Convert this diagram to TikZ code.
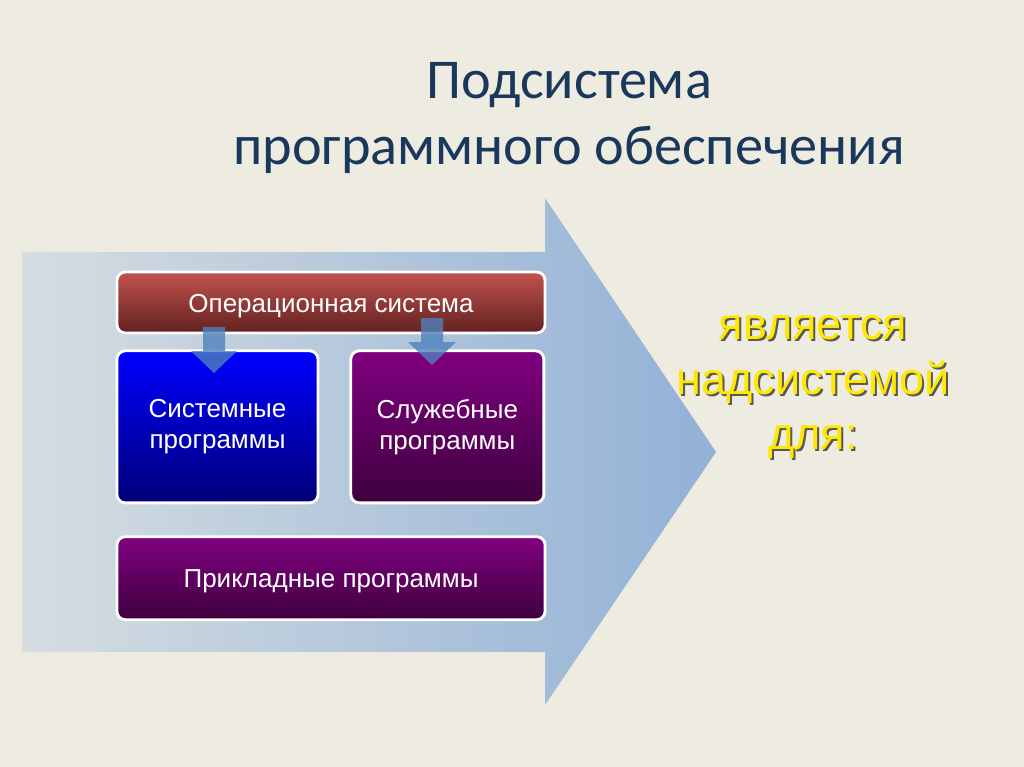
\documentclass[tikz,border=0pt]{standalone}
\usepackage{fontspec}
\setmainfont{Liberation Sans}
\newfontfamily\titlefont{Carlito}
\usepackage{tikz}
\usetikzlibrary{positioning,shadings}
\definecolor{slide}{HTML}{EEECE1}
\definecolor{titleblue}{RGB}{26,56,92}
\definecolor{arrowleft}{RGB}{214,221,225}
\definecolor{arrowright}{RGB}{146,177,214}
\definecolor{ostop}{RGB}{194,82,78}
\definecolor{osbottom}{RGB}{98,34,33}
\definecolor{systop}{RGB}{0,0,255}
\definecolor{sysbottom}{RGB}{0,0,120}
\definecolor{purpletop}{RGB}{128,0,128}
\definecolor{purplebottom}{RGB}{62,0,62}
\definecolor{yellowtext}{RGB}{255,232,0}
\definecolor{smallarrow}{RGB}{79,129,189}

\begin{document}
\begin{tikzpicture}[x=0.025cm,y=-0.025cm]
    \tikzstyle{box}=[draw=white, line width=2pt, rounded corners=6pt, text=white, align=center, inner sep=0pt, font=\fontsize{18.5}{22}\selectfont, execute at begin node={\rule{0pt}{0.94em}}]
    \tikzstyle{osbox}=[top color=ostop, bottom color=osbottom]
    \tikzstyle{sysbox}=[top color=systop, bottom color=sysbottom]
    \tikzstyle{purplebox}=[top color=purpletop, bottom color=purplebottom]
    \tikzstyle{blockarrow}=[fill=smallarrow, fill opacity=0.8]
    \tikzstyle{yellow}=[align=center, font=\fontsize{32}{39}\selectfont]
    \useasboundingbox[fill=slide] (0,0) rectangle (1024,767);
    % big arrow
    \shade[left color=arrowleft, right color=arrowright] (22,252) -- (545,252) -- (545,198) -- (716,452) -- (545,705) -- (545,652) -- (22,652) -- cycle;
    \node[align=center, text=titleblue, font=\titlefont\fontsize{40}{47}\selectfont] (title) at (569,118) {Подсистема\\программного обеспечения};
    \node[box,osbox,minimum width=10.7cm,minimum height=1.525cm] (os) at (331,302.5) {Операционная система};
    \node[box,sysbox,minimum width=5.025cm,minimum height=3.8cm,below=0.375cm of os.south west,anchor=north west] (system) {Системные\\программы};
    \node[box,purplebox,minimum width=4.825cm,minimum height=3.8cm,right=0.75cm of system] (service) {Служебные\\программы};
    \node[box,purplebox,minimum width=10.7cm,minimum height=2.075cm,below=0.775cm of system.south west,anchor=north west] (applied) {Прикладные программы};
    % arrows from the OS box
    \coordinate (sysin) at (214,327);
    \coordinate (servin) at (432,318);
    \fill[blockarrow] (sysin) ++(-11,0) -- ++(22,0) -- ++(0,24) -- ++(12,0) -- ++(-23,22) -- ++(-23,-22) -- ++(12,0) -- cycle;
    \fill[blockarrow] (servin) ++(-11,0) -- ++(22,0) -- ++(0,24) -- ++(13,0) -- ++(-24,23) -- ++(-24,-23) -- ++(13,0) -- cycle;
    % super system text
    \node[yellow, text=black!80, opacity=0.8] (supershadow) at (815,389) {является\\надсистемой\\для:};
    \node[yellow, text=yellowtext] (super) at (813,387) {является\\надсистемой\\для:};
\end{tikzpicture}
\end{document}
